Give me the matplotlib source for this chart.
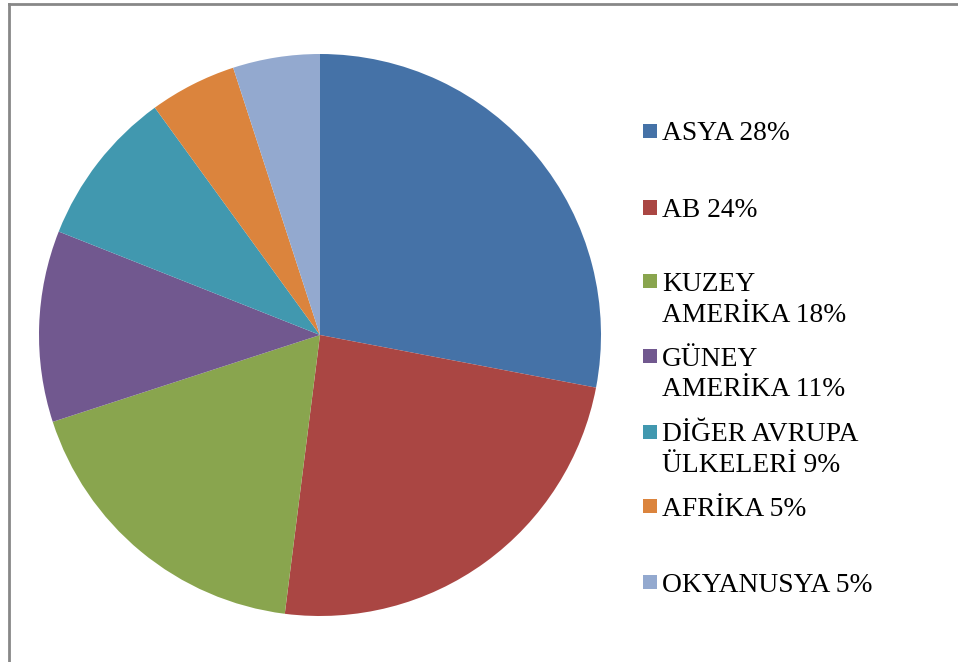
import matplotlib
matplotlib.use("Agg")
import matplotlib.pyplot as plt
from matplotlib.patches import Rectangle
from matplotlib.lines import Line2D

labels = ["ASYA 28%", "AB 24%", "KUZEY\nAMERİKA 18%", "GÜNEY\nAMERİKA 11%",
          "DİĞER AVRUPA\nÜLKELERİ 9%", "AFRİKA 5%", "OKYANUSYA 5%"]
values = [28, 24, 18, 11, 9, 5, 5]
colors = ["#4572A7", "#AA4643", "#89A54E", "#71588F", "#4198AF", "#DB843D", "#93A9CF"]

W, H = 958, 662
fig = plt.figure(figsize=(W / 100, H / 100), dpi=100)
fig.patch.set_facecolor("white")

cx, cy, r = 320, 335, 281
ax = fig.add_axes([(cx - r) / W, (H - cy - r) / H, 2 * r / W, 2 * r / H])
ax.pie(values, colors=colors, startangle=90, counterclock=False,
       wedgeprops=dict(linewidth=0), radius=1)
ax.set_xlim(-1, 1)
ax.set_ylim(-1, 1)
ax.set_aspect("equal")
ax.axis("off")

# border lines (top and left only, as in reference)
fig.add_artist(Line2D([8.5 / W, 1], [1 - 3.5 / H, 1 - 3.5 / H], transform=fig.transFigure,
                      color="#888888", linewidth=2))
fig.add_artist(Line2D([8.5 / W, 8.5 / W], [0, 1 - 3.5 / H], transform=fig.transFigure,
                      color="#888888", linewidth=2))

# legend (manual)
first_line_y = [131, 207.5, 281, 356, 431.5, 506, 582]
line_gap = 31
mx, ms = 643, 14
tx = 662
for lab, col, y in zip(labels, colors, first_line_y):
    fig.add_artist(Rectangle((mx / W, 1 - (y + ms / 2) / H), ms / W, ms / H,
                             transform=fig.transFigure, facecolor=col, edgecolor="none"))
    for i, part in enumerate(lab.split("\n")):
        fig.text(tx / W, 1 - (y + i * line_gap) / H, part, fontsize=19.8,
                 family=["Liberation Serif", "DejaVu Serif"], va="center_baseline",
                 ha="left", color="black")

fig.savefig("out.png", dpi=100, facecolor="white")
